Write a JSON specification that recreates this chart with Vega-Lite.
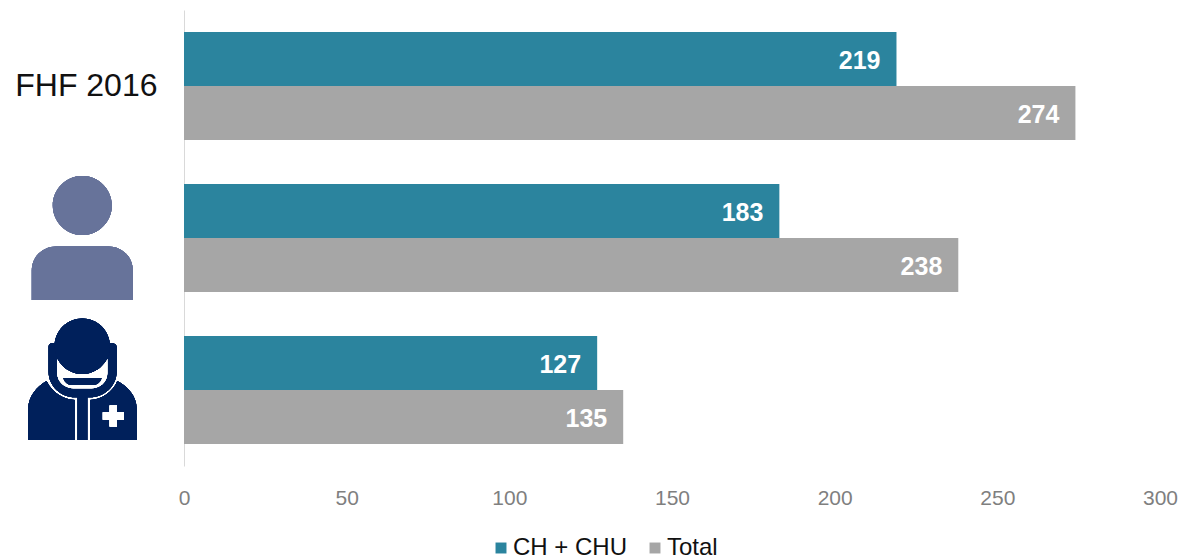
{
  "$schema": "https://vega.github.io/schema/vega-lite/v6.json",
  "width": 976,
  "height": 456,
  "autosize": "none",
  "padding": {"left": 184, "top": 10, "right": 23, "bottom": 94},
  "background": "white",
  "config": {"view": {"stroke": null}, "font": "Liberation Sans"},
  "data": {"values": [
    {"groupe": "FHF 2016", "serie": "CH + CHU", "valeur": 219},
    {"groupe": "FHF 2016", "serie": "Total", "valeur": 274},
    {"groupe": "Personne", "serie": "CH + CHU", "valeur": 183},
    {"groupe": "Personne", "serie": "Total", "valeur": 238},
    {"groupe": "Médecin", "serie": "CH + CHU", "valeur": 127},
    {"groupe": "Médecin", "serie": "Total", "valeur": 135}
  ]},
  "encoding": {
    "y": {
      "field": "groupe", "type": "nominal", "title": null,
      "scale": {"domain": ["FHF 2016", "Personne", "Médecin"], "paddingInner": 0.29, "paddingOuter": 0.145},
      "axis": {
        "domainColor": "#d9d9d9", "domainWidth": 1, "ticks": false, "grid": false,
        "labelExpr": "datum.value == 'FHF 2016' ? datum.label : ''",
        "labelFontSize": 32, "labelColor": "#111111", "labelPadding": 27, "labelLimit": 300
      }
    }
  },
  "layer": [
    {
      "mark": {"type": "bar", "cornerRadius": 0},
      "encoding": {
        "x": {
          "field": "valeur", "type": "quantitative", "title": null,
          "scale": {"domain": [0, 300], "nice": false},
          "axis": {
            "values": [0, 50, 100, 150, 200, 250, 300], "domain": false, "ticks": false, "grid": false,
            "labelFontSize": 21, "labelColor": "#7f7f7f", "labelPadding": 21, "labelFlush": false, "labelOverlap": false
          }
        },
        "yOffset": {"field": "serie", "type": "nominal", "scale": {"domain": ["CH + CHU", "Total"], "paddingInner": 0, "paddingOuter": 0}},
        "color": {
          "field": "serie", "type": "nominal",
          "scale": {"domain": ["CH + CHU", "Total"], "range": ["#2b849e", "#a6a6a6"]},
          "legend": {
            "title": null, "orient": "none", "legendX": 305, "legendY": 526, "direction": "horizontal", "columns": 2,
            "symbolType": "square", "symbolSize": 120, "symbolStrokeWidth": 0, "labelFontSize": 24, "labelColor": "#111111",
            "labelOffset": 0, "columnPadding": 15, "labelLimit": 300
          }
        }
      }
    },
    {
      "mark": {"type": "text", "align": "right", "baseline": "middle", "dx": -16, "dy": 2, "fontSize": 25, "fontWeight": "bold", "color": "white"},
      "encoding": {
        "x": {"field": "valeur", "type": "quantitative"},
        "yOffset": {"field": "serie", "type": "nominal", "scale": {"domain": ["CH + CHU", "Total"], "paddingInner": 0, "paddingOuter": 0}},
        "text": {"field": "valeur", "type": "quantitative"}
      }
    },
    {
      "mark": {"type": "point", "filled": true, "opacity": 1, "strokeWidth": 0, "size": 40000, "color": "#67739a",
        "shape": "M-0.295,-0.325 A0.295,0.295 0 1 1 0.295,-0.325 A0.295,0.295 0 1 1 -0.295,-0.325 Z M-0.505,0.62 L-0.505,0.33 C-0.505,0.17 -0.38,0.085 -0.26,0.085 L0.26,0.085 C0.38,0.085 0.505,0.17 0.505,0.33 L0.505,0.62 Z"},
      "encoding": {"x": {"datum": -31.26, "type": "quantitative"}, "y": {"datum": "Personne", "type": "nominal"}}
    },
    {
      "mark": {"type": "point", "filled": true, "opacity": 1, "strokeWidth": 0, "size": 40000, "color": "#00205b",
        "shape": "M-0.54,0.5 L-0.54,0.183 C-0.54,0.067 -0.457,-0.033 -0.357,-0.09 C-0.307,0.017 -0.19,0.1 -0.073,0.1 L-0.073,0.5 Z M-0.047,0.05 L0.05,0.05 L0.05,0.5 L-0.047,0.5 Z M0.077,0.5 L0.077,0.1 C0.19,0.1 0.307,0.017 0.35,-0.09 C0.46,-0.033 0.543,0.067 0.543,0.183 L0.543,0.5 Z M-0.337,-0.433 Q-0.337,-0.467 -0.297,-0.467 L0.293,-0.467 Q0.343,-0.467 0.343,-0.427 L0.343,-0.183 C0.343,-0.033 0.21,0.073 0.077,0.073 L-0.073,0.073 C-0.205,0.073 -0.337,-0.033 -0.337,-0.183 Z"},
      "encoding": {"x": {"datum": -31.26, "type": "quantitative"}, "y": {"datum": "Médecin", "type": "nominal"}}
    },
    {
      "mark": {"type": "point", "filled": true, "opacity": 1, "strokeWidth": 0, "size": 40000, "color": "#ffffff",
        "shape": "M-0.25,-0.307 L-0.25,-0.167 C-0.25,-0.083 -0.173,-0.017 -0.09,-0.017 L0.093,-0.017 C0.177,-0.017 0.25,-0.083 0.25,-0.167 L0.25,-0.307 Z M0.273,0.155 L0.347,0.155 L0.347,0.223 L0.415,0.223 L0.415,0.297 L0.347,0.297 L0.347,0.365 L0.273,0.365 L0.273,0.297 L0.205,0.297 L0.205,0.223 L0.273,0.223 Z"},
      "encoding": {"x": {"datum": -31.26, "type": "quantitative"}, "y": {"datum": "Médecin", "type": "nominal"}}
    },
    {
      "mark": {"type": "point", "filled": true, "opacity": 1, "strokeWidth": 0, "size": 40000, "color": "#00205b",
        "shape": "M-0.277,-0.437 A0.277,0.277 0 1 1 0.277,-0.437 A0.277,0.277 0 1 1 -0.277,-0.437 Z M-0.19,-0.117 L0.193,-0.117 C0.177,-0.073 0.143,-0.05 0.11,-0.05 L-0.107,-0.05 C-0.14,-0.05 -0.173,-0.073 -0.19,-0.117 Z"},
      "encoding": {"x": {"datum": -31.26, "type": "quantitative"}, "y": {"datum": "Médecin", "type": "nominal"}}
    }
  ]
}
